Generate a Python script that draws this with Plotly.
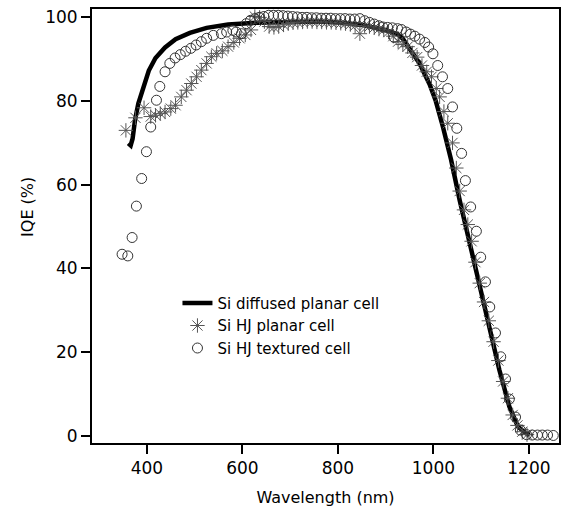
import plotly.graph_objects as go

# Si diffused planar cell (solid line)
wl_diffused = [361, 366, 370, 375, 382, 392, 404, 418, 438, 460, 490, 525, 570, 630, 700,
               760, 800, 850, 902, 925, 936, 950, 971, 992, 1005, 1020, 1037, 1055, 1076,
               1097, 1118, 1138, 1159, 1177, 1194, 1202]
iqe_diffused = [69.9, 69.4, 71.0, 75.4, 79.4, 83.4, 87.3, 90.3, 92.8, 94.8, 96.3, 97.5, 98.3, 98.7, 98.9,
                99.0, 98.8, 98.2, 96.9, 96.0, 94.9, 92.5, 89.0, 84.0, 80.0, 73.8, 66.0, 56.3, 46.0,
                35.6, 25.3, 15.8, 7.0, 2.2, 0.6, 0.3]

# Si HJ planar cell (stars)
wl_planar = [356, 376, 394, 408, 418, 428, 438, 450, 460, 472, 483, 493, 504, 514, 525, 535, 546,
             558, 570, 582, 594, 606, 618, 626, 636, 646, 656, 666, 676, 686, 696, 706, 716, 726,
             736, 746, 756, 766, 776, 786, 796, 806, 816, 826, 836, 846, 856, 866, 876, 886, 896,
             906, 916, 926, 936, 946, 956, 966, 976, 986, 996, 1006, 1013, 1022, 1030, 1040, 1048,
             1055, 1064, 1072, 1080, 1088, 1097, 1106, 1116, 1126, 1136, 1146, 1156, 1166, 1176,
             1186, 1196]
iqe_planar = [73.0, 76.0, 78.4, 76.3, 76.6, 77.0, 77.4, 78.2, 79.0, 81.0, 82.6, 84.2, 85.8, 87.4, 89.0,
              90.6, 91.4, 92.0, 93.0, 94.0, 95.0, 95.8, 97.0, 100.2, 100.0, 99.0, 97.8, 97.6, 97.8,
              98.2, 98.5, 98.7, 98.8, 98.9, 99.0, 99.0, 98.9, 98.9, 98.8, 98.8, 98.7, 98.6, 98.5,
              98.3, 98.0, 96.1, 98.0, 97.8, 97.5, 97.2, 97.0, 96.5, 95.5, 94.2, 93.5, 93.0, 91.5,
              90.5, 88.5, 87.0, 85.8, 83.0, 81.0, 77.5, 74.7, 70.0, 64.0, 58.5, 54.0, 50.5, 46.5,
              41.5, 36.5, 32.0, 27.5, 22.5, 18.0, 13.0, 9.0, 5.0, 2.5, 1.0, 0.3]

# Si HJ textured cell (circles)
wl_textured = [348, 360, 369, 378, 389, 399, 408, 420, 427, 438, 448, 459, 470, 481, 492, 503, 514,
               525, 539, 556, 567, 580, 587, 598, 608, 617, 626, 635, 645, 655, 665, 675, 685, 695,
               705, 715, 725, 735, 745, 755, 765, 775, 785, 795, 805, 815, 825, 835, 846, 856, 866,
               876, 886, 894, 904, 914, 918, 925, 933, 943, 952, 961, 971, 982, 990, 999, 1009, 1019,
               1030, 1040, 1049, 1059, 1067, 1078, 1090, 1099, 1109, 1118, 1130, 1141, 1151, 1159,
               1172, 1182, 1195, 1207, 1218, 1228, 1239, 1251]
iqe_textured = [43.4, 43.0, 47.4, 54.9, 61.5, 67.9, 73.8, 80.2, 83.5, 87.0, 89.0, 90.3, 91.1, 91.9,
                92.6, 93.4, 94.2, 95.0, 95.7, 96.1, 96.5, 96.9, 96.5, 96.1, 98.5, 99.3, 99.7, 100.0,
                100.2, 100.5, 100.5, 100.5, 100.4, 100.3, 100.2, 100.1, 100.0, 100.0, 99.9, 99.9,
                99.8, 99.8, 99.8, 99.7, 99.7, 99.7, 99.6, 99.6, 99.7, 99.2, 98.8, 98.4, 98.0, 97.7,
                97.6, 97.5, 95.2, 97.3, 97.1, 96.5, 96.0, 95.5, 94.8, 94.0, 92.9, 91.3, 88.5, 85.8,
                83.0, 78.6, 73.5, 67.5, 61.0, 54.7, 48.9, 42.7, 36.8, 30.8, 24.6, 18.9, 13.6, 8.8,
                4.5, 1.4, 0.3, 0.2, 0.2, 0.2, 0.2, 0.1]

font = "DejaVu Sans, Verdana, sans-serif"

fig = go.Figure()
fig.add_trace(go.Scatter(x=wl_diffused, y=iqe_diffused, mode="lines",
                         name="Si diffused planar cell",
                         line=dict(color="black", width=4.5)))
fig.add_trace(go.Scatter(x=wl_planar, y=iqe_planar, mode="markers",
                         name="Si HJ planar cell",
                         marker=dict(symbol="asterisk-open", size=12, color="#555555",
                                     line=dict(color="#555555", width=1))))
fig.add_trace(go.Scatter(x=wl_textured, y=iqe_textured, mode="markers",
                         name="Si HJ textured cell",
                         marker=dict(symbol="circle-open", size=10, color="#333333",
                                     line=dict(color="#333333", width=1))))

axis_style = dict(showline=True, linecolor="black", linewidth=2, mirror=True,
                  ticks="outside", ticklen=9, tickwidth=2, tickcolor="black",
                  showgrid=False, zeroline=False, automargin=False,
                  tickfont=dict(family=font, size=17, color="black"))

fig.update_xaxes(range=[285, 1263], tickvals=[400, 600, 800, 1000, 1200],
                 title=dict(text="Wavelength (nm)", font=dict(family=font, size=16, color="black"),
                            standoff=14),
                 **axis_style)
fig.update_yaxes(range=[-1.7, 102], tickvals=[0, 20, 40, 60, 80, 100], **axis_style)

fig.add_annotation(text="IQE (%)", textangle=-90, xref="paper", yref="paper",
                   x=-0.137, y=0.544, xanchor="center", yanchor="middle", showarrow=False,
                   font=dict(family=font, size=16, color="black"))

fig.update_layout(
    width=562, height=510,
    margin=dict(l=92, r=3, t=9, b=67),
    plot_bgcolor="white", paper_bgcolor="white",
    legend=dict(x=0.183, y=0.36, xanchor="left", yanchor="top",
                bgcolor="rgba(0,0,0,0)", font=dict(family=font, size=15, color="black"),
                tracegroupgap=0, itemwidth=30),
)

# drop the default page margin so the figure sits at the window corner
fig.write_html("out.html", config={"displayModeBar": False},
               post_script="document.body.style.margin='0';")
